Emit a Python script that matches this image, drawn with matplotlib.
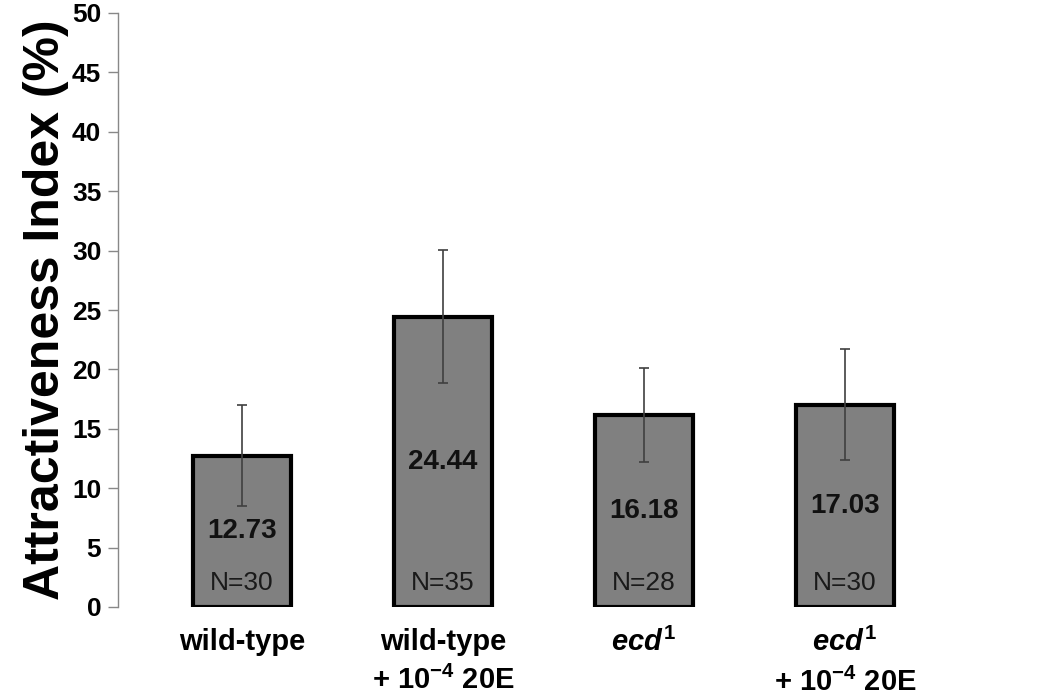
import matplotlib
matplotlib.use("Agg")
import matplotlib.pyplot as plt
import numpy as np

plt.rcParams['font.family'] = ['Liberation Sans', 'DejaVu Sans']
plt.rcParams['mathtext.fontset'] = 'custom'
plt.rcParams['mathtext.rm'] = 'Liberation Sans:bold'
plt.rcParams['mathtext.bf'] = 'Liberation Sans:bold'
plt.rcParams['mathtext.it'] = 'Liberation Sans:italic:bold'
plt.rcParams['mathtext.default'] = 'regular'

groups = ["wild-type", "wild-type\n+ 10$^{-4}$ 20E",
          r"$\mathit{ecd^{1}}$", "$\\mathit{ecd^{1}}$\n+ 10$^{-4}$ 20E"]
values = [12.73, 24.44, 16.18, 17.03]
errors = [4.25, 5.6, 3.95, 4.65]
n_labels = ["N=30", "N=35", "N=28", "N=30"]
yticks = [0, 5, 10, 15, 20, 25, 30, 35, 40, 45, 50]

fig = plt.figure(figsize=(10.5, 6.98), dpi=100)
ax = fig.add_axes([118 / 1050, 91 / 698, (1045 - 118) / 1050, (607 - 13) / 698])

x = np.arange(len(values))
ax.bar(x, values, width=0.49, color='#808080', edgecolor='black', linewidth=3, zorder=2)
ax.errorbar(x, values, yerr=errors, fmt='none', ecolor='#404040', elinewidth=1.2,
            capsize=3.5, capthick=1.2, zorder=3)

for xi, v, n in zip(x, values, n_labels):
    ax.text(xi, v / 2, f"{v:.2f}", ha='center', va='center', fontsize=20,
            fontweight='bold', color='#111111', zorder=4)
    ax.text(xi, 2.0, n, ha='center', va='center', fontsize=19, color='#1a1a1a', zorder=4)

ax.set_xlim(-0.617, (1045 - 242) / 201)
ax.set_ylim(0, 50)
ax.set_yticks(yticks)
ax.set_yticklabels([str(t) for t in yticks], fontsize=19, fontweight='bold')
ax.tick_params(axis='y', direction='out', length=7, width=1, color='#888888', pad=5)

ax.set_xticks(x)
ax.set_xticklabels(groups, fontsize=21, fontweight='bold', linespacing=1.45)
for lbl in ax.get_xticklabels():
    lbl.set_verticalalignment('top')
ax.tick_params(axis='x', length=0, pad=15)

for s in ['top', 'right', 'bottom']:
    ax.spines[s].set_visible(False)
ax.spines['left'].set_color('#888888')
ax.spines['left'].set_linewidth(1)

ax.set_ylabel("Attractiveness Index (%)", fontsize=36, fontweight='bold', labelpad=2)

plt.savefig("out.png", dpi=100)
